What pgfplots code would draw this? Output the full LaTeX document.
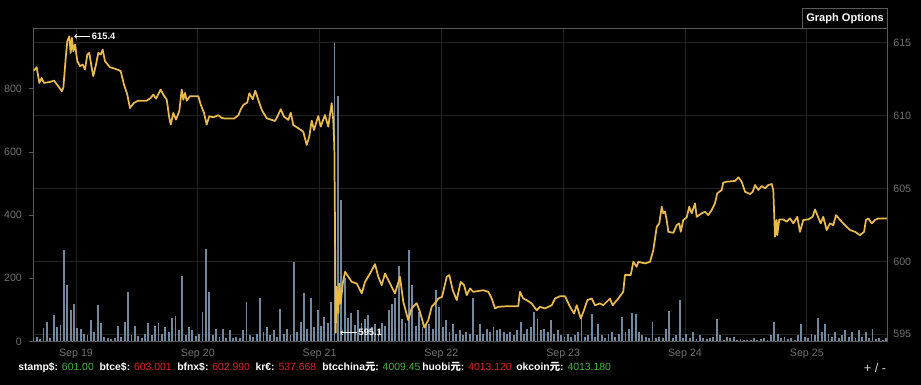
\documentclass[border=0pt]{standalone}
\usepackage{fontspec}
\setmainfont{Liberation Sans}
\newfontfamily\cjk{Noto Sans CJK SC}
\usepackage{pgfplots}
\usepackage{pgfplotstable}
\pgfplotsset{compat=1.18}
\usetikzlibrary{arrows.meta}
\definecolor{pricec}{HTML}{EBBB4A}
\definecolor{volc}{HTML}{72889F}
\definecolor{framec}{HTML}{5A5A5A}
\definecolor{gridc}{HTML}{222222}
\definecolor{tickc}{HTML}{707070}
\definecolor{upc}{HTML}{3DB83D}
\definecolor{dnc}{HTML}{E3201E}

\pgfplotstableread[row sep=\\]{v\\
10\\ 15\\ 8\\ 42\\ 63\\ 12\\ 83\\ 46\\ 52\\ 289\\
178\\ 100\\ 117\\ 42\\ 38\\ 25\\ 20\\ 68\\ 30\\ 114\\
58\\ 15\\ 10\\ 8\\ 12\\ 49\\ 15\\ 62\\ 157\\ 20\\
49\\ 18\\ 12\\ 25\\ 58\\ 20\\ 49\\ 58\\ 25\\ 46\\
30\\ 74\\ 81\\ 35\\ 206\\ 20\\ 46\\ 35\\ 18\\ 25\\
92\\ 291\\ 157\\ 20\\ 40\\ 15\\ 40\\ 12\\ 35\\ 10\\
15\\ 12\\ 35\\ 125\\ 20\\ 15\\ 25\\ 137\\ 30\\ 46\\
20\\ 37\\ 15\\ 102\\ 25\\ 40\\ 20\\ 251\\ 30\\ 63\\
153\\ 40\\ 137\\ 45\\ 99\\ 50\\ 77\\ 60\\ 125\\ 943\\
776\\ 447\\ 200\\ 74\\ 90\\ 52\\ 98\\ 60\\ 70\\ 83\\
45\\ 55\\ 40\\ 60\\ 50\\ 98\\ 120\\ 137\\ 238\\ 70\\
60\\ 289\\ 178\\ 50\\ 92\\ 45\\ 55\\ 55\\ 40\\ 162\\
109\\ 45\\ 68\\ 30\\ 56\\ 25\\ 35\\ 20\\ 30\\ 25\\
139\\ 20\\ 56\\ 25\\ 40\\ 30\\ 45\\ 35\\ 40\\ 30\\
25\\ 30\\ 20\\ 35\\ 63\\ 25\\ 40\\ 45\\ 93\\ 70\\
35\\ 40\\ 30\\ 67\\ 25\\ 35\\ 20\\ 15\\ 25\\ 15\\
20\\ 30\\ 77\\ 15\\ 20\\ 86\\ 15\\ 56\\ 20\\ 10\\
25\\ 30\\ 15\\ 25\\ 79\\ 30\\ 40\\ 90\\ 86\\ 30\\
20\\ 15\\ 10\\ 61\\ 12\\ 15\\ 10\\ 40\\ 96\\ 12\\
20\\ 132\\ 10\\ 25\\ 12\\ 30\\ 8\\ 20\\ 10\\ 8\\
12\\ 15\\ 70\\ 20\\ 6\\ 15\\ 10\\ 15\\ 5\\ 8\\
5\\ 6\\ 5\\ 10\\ 5\\ 8\\ 12\\ 6\\ 20\\ 61\\
25\\ 10\\ 15\\ 8\\ 12\\ 6\\ 20\\ 56\\ 15\\ 10\\
25\\ 20\\ 75\\ 30\\ 54\\ 25\\ 15\\ 30\\ 10\\ 20\\
35\\ 15\\ 30\\ 10\\ 35\\ 15\\ 30\\ 10\\ 40\\ 8\\
12\\ 6\\ 10\\
}\vol

\begin{document}
\begin{tikzpicture}
\path[use as bounding box, fill=black] (0,0) rectangle (690.75pt,288.75pt);
\pgfplotsset{common/.style={at={(24.975pt,32.625pt)}, anchor=south west,
  scale only axis, width=640.5pt, height=234.9pt, xmin=-0.3506, xmax=6.661,
  tick label style={font=\fontsize{8}{9.6}\selectfont, text=tickc},
  /pgf/number format/assume math mode=true}}

% frame and grid (price scale)
\begin{axis}[common, ymin=594.5, ymax=616,
  xtick={0,1,2,3,4,5,6},
  xticklabels={Sep 19,Sep 20,Sep 21,Sep 22,Sep 23,Sep 24,Sep 25},
  ytick={595,600,605,610,615}, yticklabel pos=right, ytick pos=right,
  major tick length=0pt, grid=major,
  grid style={draw=gridc, line width=0.6pt},
  axis line style={draw=framec, line width=0.6pt},
  xticklabel style={yshift=-2pt}, yticklabel style={xshift=1pt}]
\end{axis}

% volume
\begin{axis}[common, ymin=0, ymax=990, ytick={0,200,400,600,800},
  axis y line*=left, hide x axis, axis line style={draw=none},
  tick align=outside, major tick length=3pt, tick style={draw=framec},
  yticklabel style={xshift=-2pt}]
\addplot[ycomb, draw=volc, line width=1.4pt, mark=none]
  table[x expr={-0.35+\coordindex/36}, y=v]{\vol};
\end{axis}

% price
\begin{axis}[common, ymin=594.5, ymax=616, hide axis]
\addplot[draw=pricec, line width=1.3pt, line join=round, mark=none] coordinates {
(-0.345,613.10) (-0.323,613.33) (-0.301,612.25) (-0.282,612.59) (-0.263,612.25) (-0.213,612.32) (-0.181,612.41) (-0.145,612.02) (-0.117,611.68) (-0.104,611.91) (-0.082,614.20) (-0.071,615.12) (-0.055,615.45) (-0.044,614.31) (-0.033,615.34) (-0.022,614.43) (-0.008,614.88) (0.011,613.74) (0.033,613.40) (0.055,613.51) (0.074,613.17) (0.093,614.20) (0.109,614.31) (0.129,613.28) (0.142,612.71) (0.164,613.51) (0.183,614.31) (0.203,614.20) (0.219,614.54) (0.238,613.74) (0.279,613.33) (0.339,613.17) (0.367,613.06) (0.394,612.13) (0.421,611.45) (0.443,610.53) (0.476,610.88) (0.511,611.03) (0.580,611.03) (0.613,611.22) (0.635,611.45) (0.657,611.17) (0.695,611.79) (0.717,611.45) (0.745,611.10) (0.766,609.85) (0.778,609.39) (0.799,610.19) (0.821,609.73) (0.848,610.31) (0.868,611.79) (0.881,611.10) (0.895,611.56) (0.909,611.03) (0.936,611.34) (1.004,611.34) (1.024,610.76) (1.051,610.19) (1.073,609.39) (1.094,609.96) (1.127,609.89) (1.168,610.03) (1.196,609.85) (1.223,609.80) (1.297,609.80) (1.333,610.03) (1.352,610.42) (1.374,610.74) (1.406,610.90) (1.423,611.54) (1.451,611.13) (1.472,611.72) (1.497,611.08) (1.525,610.40) (1.566,609.82) (1.634,609.64) (1.653,609.93) (1.681,610.44) (1.708,609.93) (1.743,609.71) (1.763,610.21) (1.784,609.36) (1.825,609.14) (1.866,608.90) (1.894,607.99) (1.915,608.56) (1.935,609.66) (1.954,609.02) (1.989,609.98) (2.009,609.25) (2.044,610.05) (2.071,609.25) (2.099,610.86) (2.112,609.71) (2.121,607.87) (2.126,602.84) (2.132,595.10) (2.140,598.25) (2.154,596.42) (2.162,598.48) (2.173,597.11) (2.190,598.48) (2.209,599.28) (2.264,598.59) (2.305,598.48) (2.346,597.80) (2.373,598.59) (2.414,599.17) (2.455,599.81) (2.482,598.94) (2.510,598.37) (2.537,599.17) (2.578,598.48) (2.619,597.80) (2.660,598.94) (2.687,597.22) (2.728,595.96) (2.756,596.79) (2.797,597.13) (2.824,596.53) (2.860,595.46) (2.892,595.96) (2.920,596.88) (2.947,597.13) (2.975,597.45) (3.005,597.56) (3.044,598.94) (3.065,599.06) (3.093,598.02) (3.126,597.34) (3.158,598.59) (3.186,598.37) (3.208,597.68) (3.235,598.14) (3.262,597.91) (3.344,598.02) (3.385,597.91) (3.413,597.45) (3.440,596.77) (3.467,596.88) (3.536,596.92) (3.631,596.92) (3.645,597.91) (3.672,597.45) (3.700,597.34) (3.741,597.11) (3.782,596.65) (3.810,596.88) (3.851,596.77) (3.906,596.99) (3.933,597.45) (3.974,597.61) (4.015,597.61) (4.056,596.88) (4.089,596.42) (4.111,596.99) (4.144,596.08) (4.171,596.65) (4.198,597.34) (4.234,597.45) (4.261,596.99) (4.302,597.11) (4.329,596.99) (4.384,597.45) (4.406,596.99) (4.452,597.45) (4.493,597.91) (4.507,599.06) (4.554,599.06) (4.576,599.97) (4.603,599.63) (4.617,599.97) (4.672,599.86) (4.713,599.97) (4.740,600.77) (4.768,602.37) (4.789,602.61) (4.809,603.75) (4.822,603.30) (4.836,603.41) (4.850,602.84) (4.863,602.03) (4.904,601.96) (4.932,602.49) (4.953,602.61) (4.965,602.03) (4.986,602.84) (5.014,603.02) (5.035,603.75) (5.055,603.30) (5.082,603.98) (5.096,603.06) (5.137,603.30) (5.164,603.41) (5.191,603.18) (5.219,603.52) (5.246,603.98) (5.265,604.67) (5.301,604.90) (5.314,605.40) (5.342,605.47) (5.410,605.52) (5.438,605.77) (5.465,605.47) (5.493,604.78) (5.534,604.62) (5.556,604.78) (5.575,605.24) (5.602,604.90) (5.630,605.17) (5.657,605.01) (5.684,605.24) (5.712,605.31) (5.725,604.90) (5.739,601.69) (5.753,602.84) (5.758,601.80) (5.774,602.88) (5.807,602.88) (5.835,602.72) (5.862,602.95) (5.889,602.61) (5.922,603.06) (5.944,602.03) (5.971,602.84) (6.012,602.88) (6.048,603.06) (6.067,603.57) (6.086,603.18) (6.114,602.61) (6.135,603.06) (6.163,602.15) (6.190,602.61) (6.218,602.49) (6.240,603.18) (6.273,602.84) (6.300,602.61) (6.328,602.37) (6.355,602.15) (6.396,602.03) (6.437,601.80) (6.470,602.03) (6.486,602.84) (6.505,602.95) (6.533,602.61) (6.560,602.84) (6.587,602.95) (6.658,602.95)
};
\node[anchor=west, inner sep=0, text=white, font=\bfseries\fontsize{7}{8}\selectfont] (hi) at (axis cs:0.129,615.45) {615.4};
\draw[white, line width=0.6pt, -{To[length=2pt,width=3.5pt]}] ([xshift=-1.2pt]hi.west) -- ([xshift=-13pt]hi.west);
\node[anchor=west, inner sep=0, text=white, font=\bfseries\fontsize{7}{8}\selectfont] (lo) at (axis cs:2.318,595.1) {595.1};
\draw[white, line width=0.6pt, -{To[length=2pt,width=3.5pt]}] ([xshift=-1.2pt]lo.west) -- ([xshift=-13.5pt]lo.west);
\end{axis}

% Graph Options button
\node[draw=framec, fill=black, text=white, line width=0.6pt, inner sep=0,
  minimum width=63.45pt, minimum height=15.2pt,
  font=\bfseries\fontsize{8.3}{10}\selectfont] at (633.75pt,275.1pt) {Graph Options};

% ticker line
\begin{scope}[every node/.style={anchor=base west, inner sep=0, font=\fontsize{7.8}{9.4}\selectfont}]
\node at (13.5pt,10.9pt) {\textcolor{white}{\bfseries stamp\$:} \textcolor{upc}{601.00}};
\node at (74.5pt,10.9pt) {\textcolor{white}{\bfseries btce\$:} \textcolor{dnc}{603.001}};
\node at (132.75pt,10.9pt) {\textcolor{white}{\bfseries bfnx\$:} \textcolor{dnc}{602.990}};
\node at (191.5pt,10.9pt) {\textcolor{white}{\bfseries kr€:} \textcolor{dnc}{537.668}};
\node at (241.5pt,10.9pt) {\textcolor{white}{\bfseries btcchina{\cjk 元}:} \textcolor{upc}{4009.45}};
\node at (316.5pt,10.9pt) {\textcolor{white}{\bfseries huobi{\cjk 元}:} \textcolor{dnc}{4013.120}};
\node at (387pt,10.9pt) {\textcolor{white}{\bfseries okcoin{\cjk 元}:} \textcolor{upc}{4013.180}};
\end{scope}
\node[anchor=base, inner sep=0, text=white!85!black, font=\fontsize{9.5}{11}\selectfont] at (656.25pt,9pt) {+ / -};
\end{tikzpicture}
\end{document}
